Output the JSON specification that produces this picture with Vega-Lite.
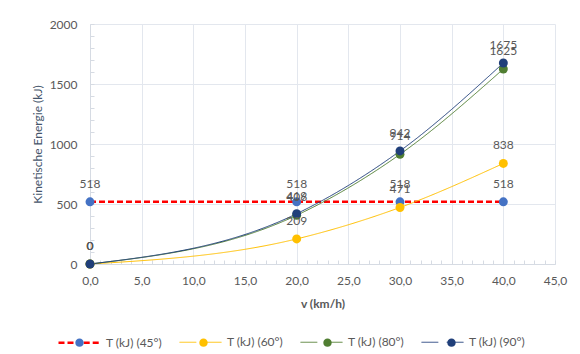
{
  "$schema": "https://vega.github.io/schema/vega-lite/v6.json",
  "width": 465,
  "height": 240,
  "autosize": {"type": "none"},
  "padding": {"left": 90, "top": 24, "right": 25, "bottom": 90},
  "background": "white",
  "config": {
    "font": "Lato",
    "view": {"stroke": null},
    "legend": {
      "orient": "none",
      "legendX": -33,
      "legendY": 296,
      "direction": "horizontal",
      "columns": 4,
      "columnPadding": 14,
      "gridAlign": "all",
      "labelOffset": 4,
      "labelFontSize": 12,
      "labelColor": "#595959",
      "labelFont": "Lato",
      "symbolSize": 1764,
      "title": null
    }
  },
  "data": {
    "values": [
      {"series": "T (kJ) (45°)", "v": 0, "T": 518},
      {"series": "T (kJ) (45°)", "v": 20, "T": 518},
      {"series": "T (kJ) (45°)", "v": 30, "T": 518},
      {"series": "T (kJ) (45°)", "v": 40, "T": 518},
      {"series": "T (kJ) (60°)", "v": 0, "T": 0},
      {"series": "T (kJ) (60°)", "v": 20, "T": 209},
      {"series": "T (kJ) (60°)", "v": 30, "T": 471},
      {"series": "T (kJ) (60°)", "v": 40, "T": 838},
      {"series": "T (kJ) (80°)", "v": 0, "T": 0},
      {"series": "T (kJ) (80°)", "v": 20, "T": 406},
      {"series": "T (kJ) (80°)", "v": 30, "T": 914},
      {"series": "T (kJ) (80°)", "v": 40, "T": 1625},
      {"series": "T (kJ) (90°)", "v": 0, "T": 0},
      {"series": "T (kJ) (90°)", "v": 20, "T": 419},
      {"series": "T (kJ) (90°)", "v": 30, "T": 942},
      {"series": "T (kJ) (90°)", "v": 40, "T": 1675}
    ]
  },
  "layer": [
    {
      "mark": {"type": "line", "interpolate": "monotone"},
      "encoding": {
        "x": {
          "field": "v", "type": "quantitative",
          "scale": {"domain": [0, 45], "nice": false, "zero": false},
          "axis": {
            "orient": "bottom",
            "values": [0, 5, 10, 15, 20, 25, 30, 35, 40, 45],
            "labelExpr": "replace(format(datum.value, '.1f'), '.', ',')",
            "labelFlush": false, "labelOverlap": false,
            "grid": true, "gridColor": "#e3e7ee", "gridWidth": 1,
            "ticks": false, "domain": true, "domainColor": "#d6dbe3",
            "labelPadding": 11, "labelFontSize": 12, "labelColor": "#595959", "labelFont": "Lato",
            "title": "v (km/h)", "titleFont": "Lato", "titleFontSize": 12, "titleFontWeight": "bold", "titleColor": "#595959",
            "titleY": 39, "titleBaseline": "middle"
          }
        },
        "y": {
          "field": "T", "type": "quantitative",
          "scale": {"domain": [0, 2000], "nice": false},
          "axis": {
            "orient": "left",
            "values": [0, 500, 1000, 1500, 2000],
            "format": "d",
            "labelFlush": false, "labelOverlap": false,
            "grid": true, "gridColor": "#e3e7ee", "gridWidth": 1,
            "ticks": false, "domain": true, "domainColor": "#d6dbe3",
            "labelPadding": 13, "labelFontSize": 12, "labelColor": "#595959", "labelFont": "Lato",
            "title": "Kinetische Energie (kJ)", "titleFont": "Lato", "titleFontSize": 12, "titleFontWeight": "normal", "titleColor": "#44546a",
            "titleX": -53, "titleY": 120, "titleAngle": -90, "titleBaseline": "middle", "titleAlign": "center"
          }
        },
        "stroke": {
          "field": "series", "type": "nominal",
          "scale": {"domain": ["T (kJ) (45°)", "T (kJ) (60°)", "T (kJ) (80°)", "T (kJ) (90°)"], "range": ["#ff0000", "#ffc000", "#507e32", "#203f7a"]},
          "legend": {"symbolType": "M-1,0H-0.2M0.2,0H1"}
        },
        "strokeDash": {
          "field": "series", "type": "nominal",
          "scale": {"domain": ["T (kJ) (45°)", "T (kJ) (60°)", "T (kJ) (80°)", "T (kJ) (90°)"], "range": [[6, 3], [1, 0], [1, 0], [1, 0]]},
          "legend": {"symbolType": "M-1,0H-0.2M0.2,0H1"}
        },
        "strokeWidth": {
          "field": "series", "type": "ordinal",
          "scale": {"type": "ordinal", "domain": ["T (kJ) (45°)", "T (kJ) (60°)", "T (kJ) (80°)", "T (kJ) (90°)"], "range": [2.5, 1, 1, 1]},
          "legend": {"symbolType": "M-1,0H-0.2M0.2,0H1"}
        }
      }
    },
    {
      "mark": {"type": "point", "filled": true, "size": 80, "opacity": 1},
      "encoding": {
        "x": {
          "field": "v", "type": "quantitative",
          "axis": {
            "orient": "bottom",
            "values": [0,1,2,3,4,5,6,7,8,9,10,11,12,13,14,15,16,17,18,19,20,21,22,23,24,25,26,27,28,29,30,31,32,33,34,35,36,37,38,39,40,41,42,43,44,45],
            "labels": false, "grid": false, "domain": false, "ticks": true, "tickSize": -4, "tickColor": "#d6dbe3", "title": null
          }
        },
        "y": {
          "field": "T", "type": "quantitative",
          "axis": {
            "orient": "left",
            "values": [0,100,200,300,400,500,600,700,800,900,1000,1100,1200,1300,1400,1500,1600,1700,1800,1900,2000],
            "labels": false, "grid": false, "domain": false, "ticks": true, "tickSize": -4, "tickColor": "#d6dbe3", "title": null
          }
        },
        "fill": {
          "field": "series", "type": "nominal",
          "scale": {"range": ["#4472c4", "#ffc000", "#507e32", "#203f7a"]},
          "legend": {
            "symbolType": "M-1,0L-1,0M1,0L1,0M-0.2,0A0.2,0.2,0,1,1,0.2,0A0.2,0.2,0,1,1,-0.2,0Z",
            "symbolStrokeColor": "transparent",
            "symbolStrokeWidth": 2.5,
            "labelOpacity": 0
          }
        }
      }
    },
    {
      "mark": {"type": "text", "dy": -18, "fontSize": 12, "font": "Lato", "color": "#595959"},
      "encoding": {
        "x": {"field": "v", "type": "quantitative", "axis": null},
        "y": {"field": "T", "type": "quantitative", "axis": null},
        "text": {"field": "T", "type": "quantitative", "format": "d"}
      }
    }
  ],
  "resolve": {"axis": {"x": "independent", "y": "independent"}}
}
